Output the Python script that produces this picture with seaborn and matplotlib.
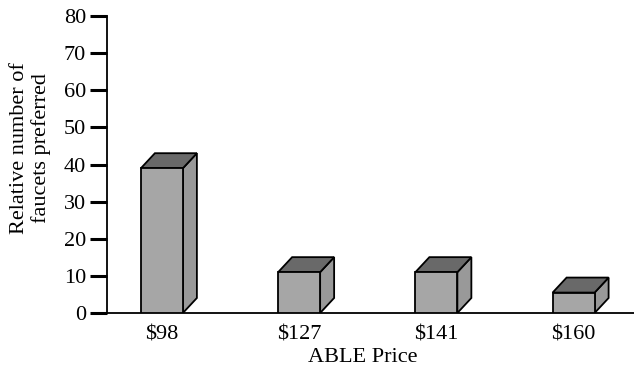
import matplotlib
matplotlib.use("Agg")
import matplotlib.pyplot as plt
import seaborn as sns
import pandas as pd
from matplotlib.patches import Polygon

prices = ["$98", "$127", "$141", "$160"]
preferred = [39, 11, 11, 5.5]
y_ticks = [0, 10, 20, 30, 40, 50, 60, 70, 80]

sns.set_theme(style="white")
plt.rcParams["font.family"] = ["Liberation Serif", "DejaVu Serif"]

df = pd.DataFrame({"price": prices, "value": preferred})

fig = plt.figure(figsize=(6.34, 3.68), dpi=100)
ax = fig.add_axes([107/634, 55/368, 527/634, 297/368])

front = "#a6a6a6"
top_c = "#696969"
side_c = "#999999"

sns.barplot(data=df, x="price", y="value", color=front, saturation=1,
            width=0.306, edgecolor="black", linewidth=1.3, ax=ax, zorder=3)

ax.set_xlim(-0.4, 3.44)
ax.set_ylim(0, 80)

dx = 14 / 137.3
dy = 15 / 3.71
for p in ax.patches:
    x0 = p.get_x()
    w = p.get_width()
    h = p.get_height()
    x1 = x0 + w
    top = Polygon([(x0, h), (x1, h), (x1 + dx, h + dy), (x0 + dx, h + dy)],
                  closed=True, facecolor=top_c, edgecolor="black", linewidth=1.3, zorder=2)
    side = Polygon([(x1, 0), (x1 + dx, dy), (x1 + dx, h + dy), (x1, h)],
                   closed=True, facecolor=side_c, edgecolor="black", linewidth=1.3, zorder=2)
    ax.add_patch(side)
    ax.add_patch(top)

ax.set_yticks(y_ticks)
ax.set_yticklabels([str(t) for t in y_ticks], fontsize=16)
ax.tick_params(axis="y", left=True, length=12, width=2.2, color="black", pad=3, labelcolor="black")
ax.tick_params(axis="x", bottom=False, length=0, labelsize=16, labelcolor="black", pad=9)

for s in ["top", "right"]:
    ax.spines[s].set_visible(False)
for s in ["left", "bottom"]:
    ax.spines[s].set_color("black")
    ax.spines[s].set_linewidth(1.3)

ax.set_xlabel("ABLE Price", fontsize=16, color="black")
ax.xaxis.set_label_coords(0.486, -0.117, transform=ax.transAxes)
ax.xaxis.label.set_va("top")
ax.set_ylabel("Relative number of\nfaucets preferred", fontsize=16, color="black",
              linespacing=1.15)
ax.yaxis.set_label_coords(-0.106, 0.554, transform=ax.transAxes)

fig.savefig("out.png", dpi=100)
